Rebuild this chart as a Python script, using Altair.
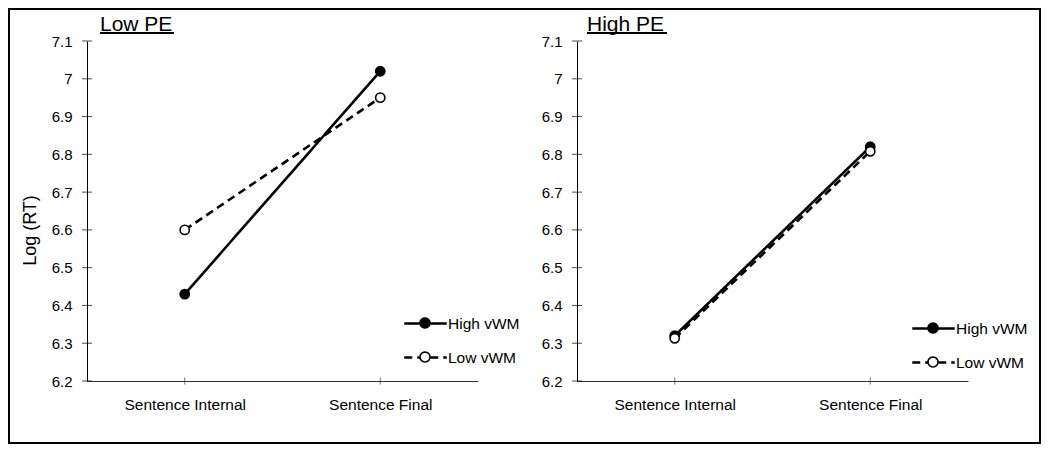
import math
import altair as alt
import pandas as pd

# ---- data ----
categories = ["Sentence Internal", "Sentence Final"]
groups = ["High vWM", "Low vWM"]
marker_keys = ["h", "l"]          # marker fill keys (kept distinct so the marker legend is not merged)
low_pe_high = [6.43, 7.02]
low_pe_low = [6.60, 6.95]
high_pe_high = [6.32, 6.82]
high_pe_low = [6.313, 6.808]
y_ticks = [6.2, 6.3, 6.4, 6.5, 6.6, 6.7, 6.8, 6.9, 7.0, 7.1]
panel_titles = ["Low PE", "High PE"]
y_title = "Log (RT)"

FONT = "Liberation Sans"
W, H = 391, 340

LINE_PATH = "M-1.25,0H1.25"
_r = 0.294
_pts = [(_r * math.cos(2 * math.pi * k / 24), _r * math.sin(2 * math.pi * k / 24)) for k in range(24)]
CIRCLE_PATH = "M" + "L".join(f"{px:.4f},{py:.4f}" for px, py in _pts) + "Z"


def panel(title, high_vals, low_vals, show_ytitle, title_dx, title_w, leg_x, leg_y, border):
    df = pd.DataFrame({
        "cond": categories * 2,
        "group": [groups[0]] * 2 + [groups[1]] * 2,
        "marker": [marker_keys[0]] * 2 + [marker_keys[1]] * 2,
        "rt": high_vals + low_vals,
    })
    yscale = alt.Scale(domain=[6.2, 7.1], nice=False, zero=False)
    xscale = alt.Scale(type="point", padding=0.5)
    yaxis_kw = dict(
        values=y_ticks, format="~g", ticks=False, grid=False,
        labelFont=FONT, labelFontSize=15, labelColor="black", labelPadding=15,
        domainColor="black", domainWidth=1,
    )
    if show_ytitle:
        yaxis = alt.Axis(title=y_title, titleFont=FONT, titleFontSize=18,
                         titleFontWeight="normal", titleColor="black",
                         titleAngle=-90, titleX=-52, titleY=189,
                         titleAlign="center", titleBaseline="alphabetic", **yaxis_kw)
    else:
        yaxis = alt.Axis(title=None, **yaxis_kw)
    xaxis = alt.Axis(title=None, ticks=False, labelAngle=0, labelFont=FONT,
                     labelFontSize=15.5, labelColor="black", labelPadding=16,
                     domainColor="#333", domainWidth=1)

    x = alt.X("cond:N", sort=categories, scale=xscale, axis=xaxis)
    y = alt.Y("rt:Q", scale=yscale, axis=yaxis)

    base = alt.Chart(df)
    lines = base.mark_line(color="black", strokeWidth=2.6).encode(
        x=x, y=y,
        strokeDash=alt.StrokeDash(
            "group:N",
            scale=alt.Scale(domain=groups, range=[[1, 0], [8, 5]]),
            legend=alt.Legend(
                title=None, orient="none", legendX=leg_x, legendY=leg_y,
                symbolType=LINE_PATH, symbolSize=1156, symbolStrokeWidth=2.6,
                symbolStrokeColor="black", labelFont=FONT, labelFontSize=15.5,
                labelColor="black", labelOffset=4, rowPadding=7, padding=0,
                zindex=1,
            ),
        ),
    )
    points = base.mark_point(filled=True, size=85, stroke="black", strokeWidth=1.6, opacity=1).encode(
        x=x, y=y,
        fill=alt.Fill(
            "marker:N",
            scale=alt.Scale(domain=marker_keys, range=["black", "white"]),
            legend=alt.Legend(
                title=None, orient="none", legendX=leg_x, legendY=leg_y,
                symbolType=CIRCLE_PATH, symbolSize=1156, symbolStrokeWidth=1.6,
                symbolStrokeColor="black", symbolOpacity=1,
                labelExpr="''", labelFontSize=15.5, labelOffset=4,
                rowPadding=7, padding=0, zindex=2,
            ),
        ),
    )
    yt = alt.Chart(pd.DataFrame({"rt": y_ticks})).mark_tick(
        color="black", thickness=1, size=10, orient="horizontal"
    ).encode(y=y, x=alt.value(0))
    xt = alt.Chart(pd.DataFrame({"cond": categories})).mark_tick(
        color="#333", thickness=1, size=7, orient="vertical"
    ).encode(x=x, y=alt.value(H))

    ttl = alt.Chart(pd.DataFrame({"t": [title]})).mark_text(
        align="left", baseline="alphabetic", font=FONT, fontSize=21, color="black"
    ).encode(text="t:N", x=alt.value(title_dx), y=alt.value(-10))
    underline = alt.Chart(pd.DataFrame({"t": [title]})).mark_rule(
        color="black", strokeWidth=1.8
    ).encode(x=alt.value(title_dx), x2=alt.value(title_dx + title_w), y=alt.value(-8))

    layers = [yt, xt, lines, points, ttl, underline]
    if border:
        frame = alt.Chart(pd.DataFrame({"t": [0]})).mark_rect(
            fill="transparent", stroke="black", strokeWidth=2
        ).encode(x=alt.value(-78), x2=alt.value(953), y=alt.value(-32), y2=alt.value(402))
        layers = [frame] + layers
    return alt.layer(*layers).properties(width=W, height=H)


left = panel(panel_titles[0], low_pe_high, low_pe_low, True, 13, 74, 320, 264, True)
right = panel(panel_titles[1], high_pe_high, high_pe_low, False, 10, 80, 338, 269, False)

chart = (
    alt.hconcat(left, right, spacing=99, bounds="flush")
    .resolve_scale(strokeDash="independent", fill="independent")
    .resolve_legend(strokeDash="independent", fill="independent")
    .properties(padding=0)
    .configure_view(stroke=None)
)

chart.save("out.html", embed_options={"renderer": "svg", "actions": False})
